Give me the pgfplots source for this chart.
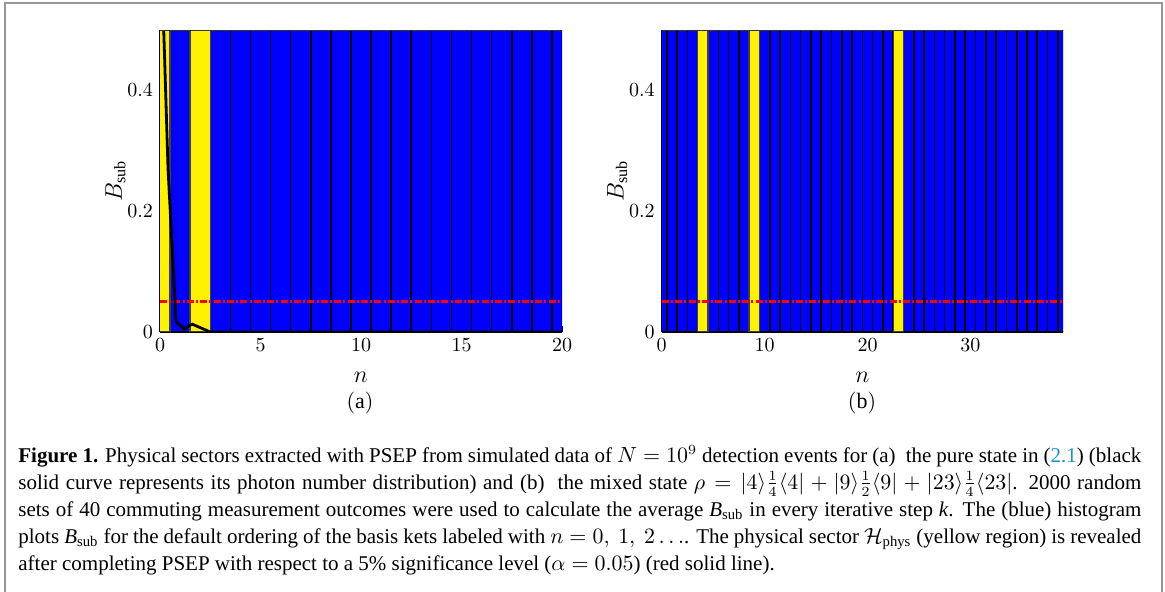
\documentclass[border=0pt]{standalone}
\usepackage{amsmath}
\usepackage{pgfplots}
\pgfplotsset{compat=1.18}
\usepackage{fontspec}
\setmainfont{Liberation Serif}
\definecolor{linkblue}{RGB}{30,144,200}
\definecolor{frameg}{RGB}{150,150,150}
\pgfplotsset{
  histo/.style={
    scale only axis, anchor=south west,
    height=151pt, ymin=0, ymax=0.5,
    ytick={0,0.2,0.4},
    axis x line*=bottom, axis y line*=left,
    x axis line style={line width=1pt},
    y axis line style={line width=0.8pt},
    tick align=inside, major tick length=3pt,
    tick style={black, line width=0.5pt},
    ticklabel style={font=\fontsize{10}{12}\selectfont},
    label style={font=\fontsize{11.5}{13}\selectfont},
    xlabel={$n$}, ylabel={$B_{\mathrm{sub}}$},
    xlabel style={yshift=-3pt},
    ylabel style={yshift=-6pt},
    yticklabel style={/pgf/number format/fixed},
  },
  bluebar/.style={ybar, bar width=1, bar shift=0pt, fill=blue, draw=black, line width=0.8pt},
  yelbar/.style={ybar, bar width=1, bar shift=0pt, fill=yellow, draw=black!75, line width=0.7pt},
  alpha line/.style={red, line width=1.3pt, dash pattern=on 3.5pt off 1.1pt on 1pt off 1.1pt},
}
\begin{document}
\begin{tikzpicture}
\useasboundingbox (0,0) rectangle (582.5pt,-296pt);
\draw[frameg, line width=0.7pt] (2.5pt,-296pt) -- (2.5pt,-1.5pt) -- (581pt,-1.5pt) -- (581pt,-296pt);

% ---------- (a) ----------
\begin{axis}[histo, at={(80pt,-166pt)}, width=201pt,
  xmin=0, xmax=20, xtick={0,5,10,15,20}]
\addplot[bluebar] coordinates {
 (1,0.5) (3,0.5) (4,0.5) (5,0.5) (6,0.5) (7,0.5) (8,0.5) (9,0.5) (10,0.5)
 (11,0.5) (12,0.5) (13,0.5) (14,0.5) (15,0.5) (16,0.5) (17,0.5) (18,0.5)
 (19,0.5) (20,0.5)};
\addplot[yelbar] coordinates {(0,0.5) (2,0.5)};
\addplot[alpha line] coordinates {(0,0.05) (20,0.05)};
\addplot[black, line width=1.4pt] coordinates {
 (0,0.70) (0.4,0.27) (0.8,0.017) (1.2,0.005) (1.6,0.013) (2.5,0.0) (20,0.0)};
\draw[black!80, line width=0.5pt] (rel axis cs:0,1) -- (rel axis cs:1,1);
\end{axis}

% ---------- (b) ----------
\begin{axis}[histo, at={(330.85pt,-166pt)}, width=200.65pt,
  xmin=0, xmax=39, xtick={0,10,20,30}]
\addplot[bluebar] coordinates {
 (0,0.5) (1,0.5) (2,0.5) (3,0.5) (5,0.5) (6,0.5) (7,0.5) (8,0.5)
 (10,0.5) (11,0.5) (12,0.5) (13,0.5) (14,0.5) (15,0.5) (16,0.5) (17,0.5)
 (18,0.5) (19,0.5) (20,0.5) (21,0.5) (22,0.5) (24,0.5) (25,0.5) (26,0.5)
 (27,0.5) (28,0.5) (29,0.5) (30,0.5) (31,0.5) (32,0.5) (33,0.5) (34,0.5)
 (35,0.5) (36,0.5) (37,0.5) (38,0.5) (39,0.5)};
\addplot[yelbar] coordinates {(4,0.5) (9,0.5) (23,0.5)};
\addplot[alpha line] coordinates {(0,0.05) (39,0.05)};
\draw[black!80, line width=0.5pt] (rel axis cs:0,1) -- (rel axis cs:1,1);
\end{axis}

\node at (180pt,-201.5pt) {\fontsize{11}{13}\selectfont $(\mathrm{a})$};
\node at (431pt,-201.5pt) {\fontsize{11}{13}\selectfont $(\mathrm{b})$};

\node[anchor=base west, inner sep=0pt] at (9pt,-231pt) {\parbox[t]{561.5pt}{\fontsize{10.5}{13.5}\selectfont
\textbf{Figure 1.} Physical sectors extracted with PSEP from simulated data of $N=10^9$ detection events for (a)~ the pure state in (\textcolor{linkblue}{2.1}) (black\linebreak
solid curve represents its photon number distribution) and (b)~ the mixed state $\rho=|4\rangle\frac{1}{4}\langle 4|+|9\rangle\frac{1}{2}\langle 9|+|23\rangle\frac{1}{4}\langle 23|$. 2000 random\linebreak
sets of 40 commuting measurement outcomes were used to calculate the average \textit{B}\textsubscript{sub} in every iterative step \textit{k}. The (blue) histogram\linebreak
plots \textit{B}\textsubscript{sub} for the default ordering of the basis kets labeled with $n=0,\ 1,\ 2\ldots$. The physical sector $\mathcal{H}_{\text{phys}}$ (yellow region) is revealed\linebreak
after completing PSEP with respect to a 5\% significance level ($\alpha=0.05$) (red solid line).}};
\end{tikzpicture}
\end{document}
